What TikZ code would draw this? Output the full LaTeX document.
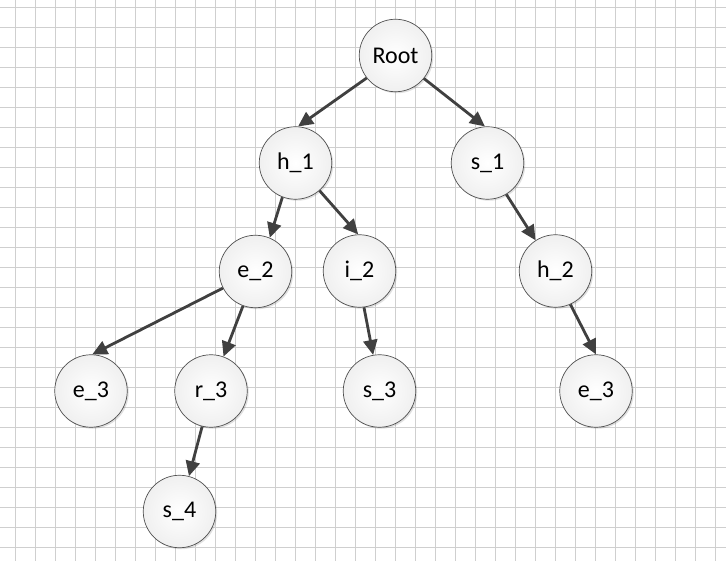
\documentclass[tikz,border=0pt]{standalone}
\usepackage{fontspec}
\setmainfont{Carlito}
\usetikzlibrary{arrows.meta,shadows}
\definecolor{edgecol}{HTML}{404040}
\definecolor{gridcol}{HTML}{CFCFCF}
\definecolor{nodeborder}{HTML}{505050}
\tikzset{
  treenode/.style={circle, minimum size=72.5pt, inner sep=0pt,
    draw=nodeborder, line width=0.7pt,
    shading=radial, inner color=white, outer color=black!6,
    drop shadow={shadow xshift=1.5pt, shadow yshift=-1.5pt, opacity=0.2, fill=black!60},
    font=\fontsize{24}{28}\selectfont},
  treeedge/.style={draw=edgecol, line width=2.8pt,
    -{Triangle[length=15pt,width=14pt]}, shorten <=0pt}
}
\begin{document}
\begin{tikzpicture}[x=1pt,y=-1pt]
\useasboundingbox (0,0) rectangle (726,561);
\fill[white] (0,0) rectangle (726,561);
\foreach \gx in {15.5,35.5,...,715.5} \draw[gridcol, line width=1pt] (\gx,0) -- (\gx,561);
\foreach \gy in {7.5,27.5,...,547.5} \draw[gridcol, line width=1pt] (0,\gy) -- (726,\gy);

\node[treenode] (root) at (395.5,55.5) {Root};
\node[treenode] (h1) at (295.5,163) {h\_1};
\node[treenode] (s1) at (487.5,163) {s\_1};
\node[treenode] (e2) at (255.5,271.5) {e\_2};
\node[treenode] (i2) at (359.5,271) {i\_2};
\node[treenode] (h2) at (555.5,271) {h\_2};
\node[treenode] (e3a) at (91,391) {e\_3};
\node[treenode] (r3) at (211,391) {r\_3};
\node[treenode] (s3) at (379.5,391) {s\_3};
\node[treenode] (e3b) at (596,391) {e\_3};
\node[treenode] (s4) at (179.5,511.5) {s\_4};

\draw[treeedge] (root.218) -- (h1.86);
\draw[treeedge] (root.321) -- (s1.94);
\draw[treeedge] (h1.249) -- (e2.67);
\draw[treeedge] (h1.311) -- (i2.92);
\draw[treeedge] (s1.301) -- (h2.123);
\draw[treeedge] (e2.207) -- (e3a.88);
\draw[treeedge] (e2.250) -- (r3.70);
\draw[treeedge] (i2.277) -- (s3.100);
\draw[treeedge] (h2.294) -- (e3b.90);
\draw[treeedge] (r3.256) -- (s4.75);
\end{tikzpicture}
\end{document}
